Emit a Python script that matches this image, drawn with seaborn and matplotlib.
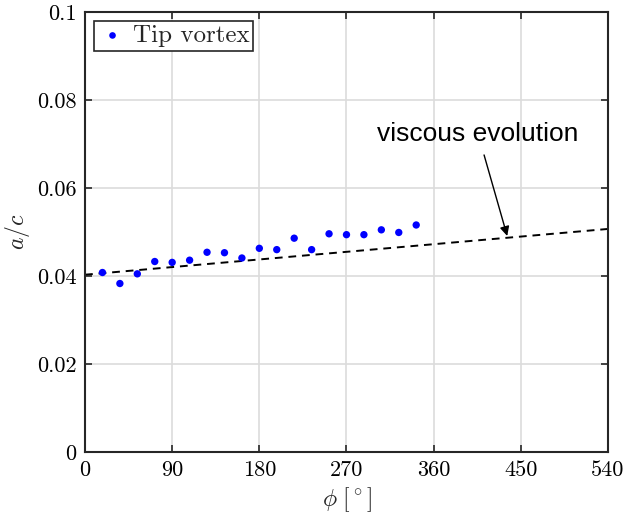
import numpy as np
import pandas as pd
import matplotlib
matplotlib.use("Agg")
import matplotlib.pyplot as plt
import seaborn as sns

# Tip vortex core radius (a/c) vs vortex age phi
phi = [18, 36, 54, 72, 90, 108, 126, 144, 162, 180,
       198, 216, 234, 252, 270, 288, 306, 324, 342]
a_c = [0.0408, 0.0383, 0.0405, 0.0433, 0.0431, 0.0436, 0.0454, 0.0453, 0.0441, 0.0463,
       0.0460, 0.0486, 0.0460, 0.0496, 0.0494, 0.0494, 0.0505, 0.0499, 0.0516]

# viscous evolution model (dashed line)
phi_model = [0, 540]
a_c_model = [0.0403, 0.0507]

xticks = [0, 90, 180, 270, 360, 450, 540]
yticks = [0, 0.02, 0.04, 0.06, 0.08, 0.1]
yticklabels = ["0", "0.02", "0.04", "0.06", "0.08", "0.1"]

sns.set_style("whitegrid")
plt.rcParams['font.family'] = ['cmr10', 'DejaVu Serif']
plt.rcParams['mathtext.fontset'] = 'cm'
plt.rcParams['axes.formatter.use_mathtext'] = True

df = pd.DataFrame({'phi': phi, 'a_c': a_c})
df_model = pd.DataFrame({'phi': phi_model, 'a_c': a_c_model})

fig = plt.figure(figsize=(6.27, 5.22), dpi=100)
ax = fig.add_axes([0.1356, 0.134, 0.834, 0.843])

sns.scatterplot(data=df, x='phi', y='a_c', color='#0000ff', s=28, edgecolor='none',
                label='Tip vortex', ax=ax, zorder=3)
sns.lineplot(data=df_model, x='phi', y='a_c', color='black', linestyle=(0, (4, 3)),
             linewidth=1.4, ax=ax, legend=False, zorder=2)

ax.annotate("viscous evolution", xy=(436, 0.0491), xytext=(406, 0.0722),
            ha='center', va='center', fontsize=19, family='Liberation Sans', color='black',
            arrowprops=dict(arrowstyle='-|>', color='black', lw=1.0,
                            mutation_scale=14, shrinkA=4, shrinkB=0))

ax.set_xlim(0, 540)
ax.set_ylim(0, 0.1)
ax.set_xticks(xticks)
ax.set_xticklabels([str(t) for t in xticks])
ax.set_yticks(yticks)
ax.set_yticklabels(yticklabels)
ax.tick_params(labelsize=16, direction='in', length=5, width=1.2, color='#262626',
               labelcolor='black', top=True, right=True, left=True, bottom=True, pad=6)
ax.grid(True, color='#dcdcdc', linewidth=1.2)
for s in ax.spines.values():
    s.set_color('#262626')
    s.set_linewidth(1.5)

ax.set_xlabel(r"$\phi\ [^\circ]$", fontsize=17, color='#262626')
ax.set_ylabel(r"$a/c$", fontsize=17, color='#262626')

leg = ax.legend(loc='upper left', fontsize=18, frameon=True, fancybox=False,
                handletextpad=0.2, borderpad=0.15, handlelength=1.2,
                borderaxespad=0.35, markerscale=0.9)
leg.get_frame().set_edgecolor('#262626')
leg.get_frame().set_linewidth(1.2)
leg.get_frame().set_alpha(1)

fig.savefig("out.png", dpi=100)
